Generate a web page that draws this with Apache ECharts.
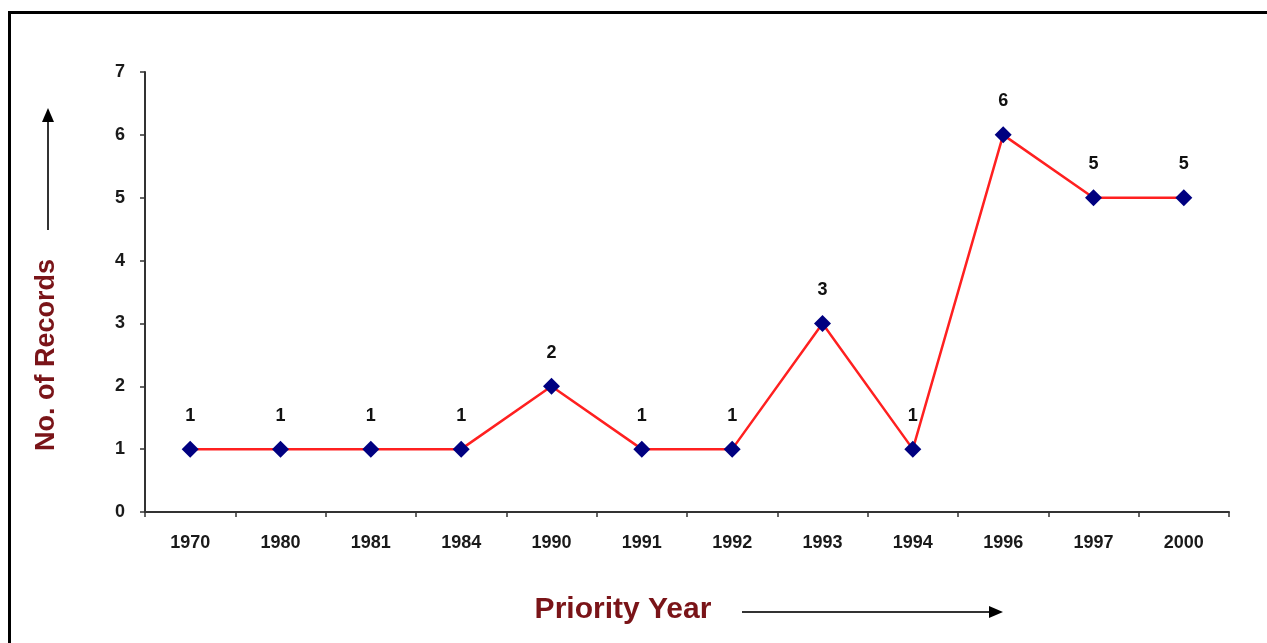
<!DOCTYPE html>
<html><head><meta charset="utf-8">
<script src="https://cdn.jsdelivr.net/npm/echarts@6/dist/echarts.min.js"></script>
<style>html,body{margin:0;padding:0;background:#fff}#c{width:1267px;height:643px}</style>
</head><body><div id="c"></div>
<script>
var years = ['1970','1980','1981','1984','1990','1991','1992','1993','1994','1996','1997','2000'];
var records = [1,1,1,1,2,1,1,3,1,6,5,5];
var yTicks = [0,1,2,3,4,5,6,7];

var chart = echarts.init(document.getElementById('c'));
var lbl = {fontFamily:'Liberation Sans, Arial', fontWeight:'bold', fontSize:18, color:'#1a1a1a'};
chart.setOption({
  animation:false,
  backgroundColor:'#fff',
  grid:{left:145, right:38, top:72, bottom:131},
  xAxis:{
    type:'category', data:years, boundaryGap:true,
    axisLine:{lineStyle:{color:'#333', width:2}},
    axisTick:{show:true, length:5, lineStyle:{color:'#333', width:1.5}},
    axisLabel:Object.assign({margin:22}, lbl),
    splitLine:{show:false}
  },
  yAxis:{
    type:'value', min:yTicks[0], max:yTicks[yTicks.length-1], interval:1,
    axisLine:{show:true, lineStyle:{color:'#333', width:2}},
    axisTick:{show:true, length:5, lineStyle:{color:'#333', width:1.5}},
    axisLabel:Object.assign({margin:20}, lbl),
    splitLine:{show:false}
  },
  series:[{
    type:'line', data:records,
    lineStyle:{color:'#ff2020', width:2.5},
    symbol:'diamond', symbolSize:17,
    itemStyle:{color:'#000080'},
    label:{show:true, position:'top', distance:16, fontFamily:'Liberation Sans, Arial', fontWeight:'bold', fontSize:18, color:'#111'}
  }],
  graphic:[
    {type:'rect', shape:{x:8, y:11, width:1270, height:3}, style:{fill:'#000'}},
    {type:'rect', shape:{x:8, y:11, width:3, height:640}, style:{fill:'#000'}},
    {type:'text', x:47, y:355, rotation:Math.PI/2,
      style:{text:'No. of Records', font:'bold 27px Liberation Sans, Arial', fill:'#7a1418', textAlign:'center', textVerticalAlign:'middle'}},
    {type:'text', x:623, y:610,
      style:{text:'Priority Year', font:'bold 30px Liberation Sans, Arial', fill:'#7a1418', textAlign:'center', textVerticalAlign:'middle'}},
    {type:'line', shape:{x1:48, y1:230, x2:48, y2:120}, style:{stroke:'#333', lineWidth:2}},
    {type:'polygon', shape:{points:[[48,108],[42,122],[54,122]]}, style:{fill:'#000'}},
    {type:'line', shape:{x1:742, y1:612, x2:990, y2:612}, style:{stroke:'#333', lineWidth:2}},
    {type:'polygon', shape:{points:[[1003,612],[989,606],[989,618]]}, style:{fill:'#000'}}
  ]
});
</script></body></html>
